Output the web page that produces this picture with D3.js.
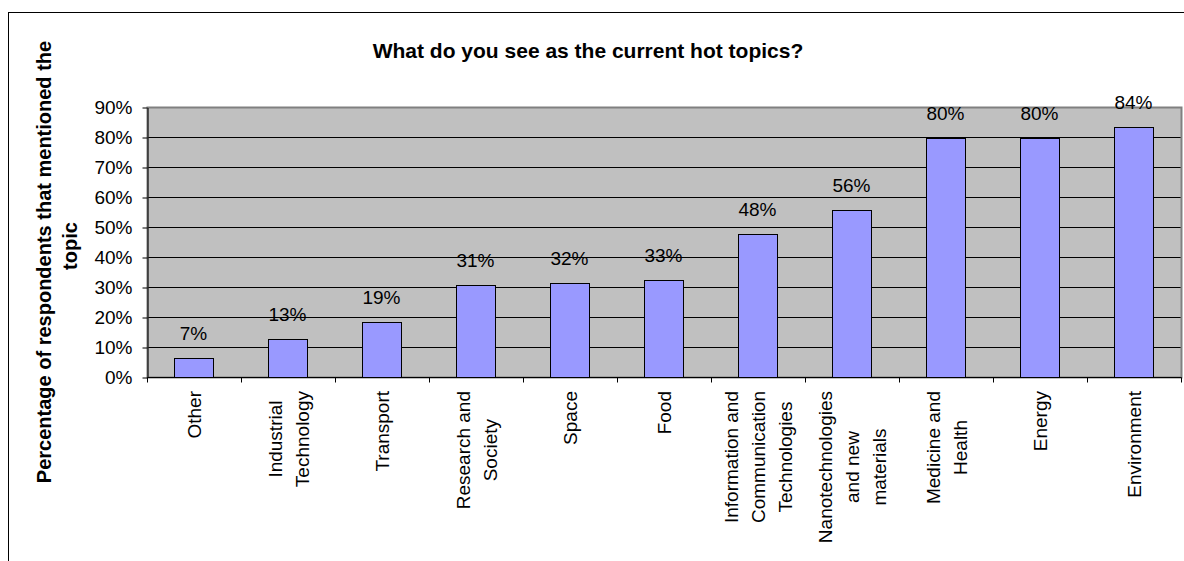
<!DOCTYPE html>
<html>
<head>
<meta charset="utf-8">
<style>
  body { margin: 0; background: white; }
  svg { font-family: 'Liberation Sans', Arial, sans-serif; }
  .lbl { font-size: 19px; fill: #000; }
  .title { font-size: 21px; font-weight: bold; }
  .ytitle { font-size: 20px; font-weight: bold; }
</style>
</head>
<body>
<script src="https://d3js.org/d3.v7.min.js"></script>
<script>
// DATA
const categories = ["Other", "Industrial Technology", "Transport", "Research and Society", "Space", "Food",
  "Information and Communication Technologies", "Nanotechnologies and new materials",
  "Medicine and Health", "Energy", "Environment"];
const labelLines = [["Other"], ["Industrial", "Technology"], ["Transport"], ["Research and", "Society"],
  ["Space"], ["Food"], ["Information and", "Communication", "Technologies"],
  ["Nanotechnologies", "and new", "materials"], ["Medicine and", "Health"], ["Energy"], ["Environment"]];
const values = [6.5, 12.9, 18.5, 30.8, 31.5, 32.5, 48.0, 55.7, 80.0, 80.0, 83.5]; // percent
const yTicks = [0, 10, 20, 30, 40, 50, 60, 70, 80, 90];
const titleText = "What do you see as the current hot topics?";
const yTitle = ["Percentage of respondents that mentioned the", "topic"];

// DIMENSIONS
const width = 1184, height = 561;
const plot = {left: 147.5, right: 1181.5, top: 107.5, bottom: 377.5};

const svg = d3.select('body').append('svg')
  .attr('width', width)
  .attr('height', height);

// outer chart border
svg.append('rect')
  .attr('x', 8.5).attr('y', 12.5)
  .attr('width', 1300).attr('height', 700)
  .attr('fill', 'none').attr('stroke', '#000');

// SCALES
const x = d3.scaleBand().domain(categories).range([plot.left, plot.right]).padding(0);
const y = d3.scaleLinear().domain([0, 90]).range([plot.bottom, plot.top]);
const bw = x.bandwidth();
const barW = 39;

// plot background
svg.append('rect')
  .attr('x', plot.left).attr('y', plot.top)
  .attr('width', plot.right - plot.left).attr('height', plot.bottom - plot.top)
  .attr('fill', '#C0C0C0');

// gridlines
svg.append('g').selectAll('line')
  .data(yTicks.filter(d => d > 0 && d < 90))
  .join('line')
  .attr('x1', plot.left).attr('x2', plot.right)
  .attr('y1', d => y(d)).attr('y2', d => y(d))
  .attr('stroke', '#000').attr('shape-rendering', 'crispEdges');

// plot border
svg.append('rect')
  .attr('x', plot.left).attr('y', plot.top)
  .attr('width', plot.right - plot.left).attr('height', plot.bottom - plot.top)
  .attr('fill', 'none').attr('stroke', '#808080').attr('stroke-width', 2);

// BARS
svg.append('g').selectAll('rect')
  .data(values)
  .join('rect')
  .attr('x', (d, i) => Math.round(x(categories[i]) + (bw - barW) / 2) - 0.5)
  .attr('y', d => Math.round(y(d)) + 0.5)
  .attr('width', barW)
  .attr('height', d => plot.bottom - (Math.round(y(d)) + 0.5))
  .attr('fill', '#9999FF')
  .attr('stroke', '#000');

// value labels
svg.append('g').selectAll('text')
  .data(values)
  .join('text')
  .attr('class', 'lbl')
  .attr('text-anchor', 'middle')
  .attr('x', (d, i) => x(categories[i]) + bw / 2 - 1)
  .attr('y', d => y(d) - 18)
  .text(d => Math.round(d) + '%');

// Y AXIS
const yAxis = d3.axisLeft(y).tickValues(yTicks).tickSize(5).tickSizeOuter(0).tickPadding(10)
  .tickFormat(d => d + '%');
const yAxisG = svg.append('g')
  .attr('transform', `translate(${plot.left},0)`)
  .call(yAxis);
yAxisG.selectAll('text').attr('font-size', 19).attr('font-family', null).attr('fill', '#000');
yAxisG.selectAll('line').attr('stroke', '#000');
yAxisG.select('.domain').attr('stroke', '#000');

// X AXIS line + boundary ticks
svg.append('line')
  .attr('x1', plot.left).attr('x2', plot.right)
  .attr('y1', plot.bottom).attr('y2', plot.bottom)
  .attr('stroke', '#000');
const bounds = categories.map(c => x(c)).concat([plot.right]);
svg.append('g').selectAll('line')
  .data(bounds)
  .join('line')
  .attr('x1', d => d).attr('x2', d => d)
  .attr('y1', plot.bottom).attr('y2', plot.bottom + 5)
  .attr('stroke', '#000');

// category labels, rotated
const catG = svg.append('g');
labelLines.forEach((lines, i) => {
  const cx = x(categories[i]) + bw / 2;
  const g = catG.append('g');
  const texts = lines.map((t, j) => g.append('text')
    .attr('class', 'lbl')
    .attr('text-anchor', 'middle')
    .attr('dy', '0.35em')
    .text(t));
  const maxLen = d3.max(texts, t => t.node().getComputedTextLength());
  const cy = 391 + maxLen / 2;
  texts.forEach((t, j) => {
    const lx = cx + 27 * (j - (lines.length - 1) / 2);
    t.attr('transform', `translate(${lx},${cy}) rotate(-90)`);
  });
});

// TITLE
svg.append('text')
  .attr('class', 'title')
  .attr('text-anchor', 'middle')
  .attr('x', 588).attr('y', 58)
  .text(titleText);

// Y TITLE
svg.append('text')
  .attr('class', 'ytitle')
  .attr('text-anchor', 'middle')
  .attr('dy', '0.35em')
  .attr('transform', 'translate(44,262) rotate(-90)')
  .text(yTitle[0]);
svg.append('text')
  .attr('class', 'ytitle')
  .attr('text-anchor', 'middle')
  .attr('dy', '0.35em')
  .attr('transform', 'translate(70,246) rotate(-90)')
  .text(yTitle[1]);
</script>
</body>
</html>
